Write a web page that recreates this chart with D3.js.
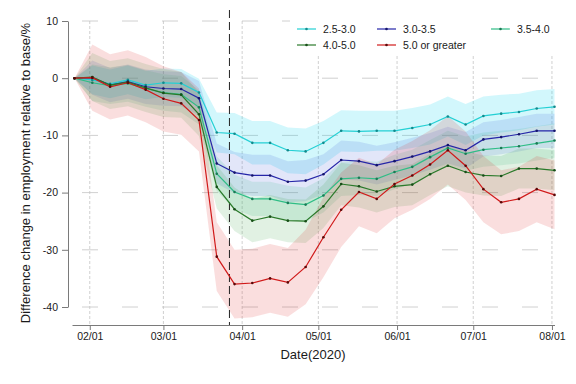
<!doctype html>
<html lang="en">
<head>
  <meta charset="utf-8">
  <title>Employment change by group</title>
  <style>
   body { margin: 0; background: #fff; }
   text { font-family: Arial, "Liberation Sans", sans-serif; fill: #1a1a1a; }
   .axis path, .axis line { stroke: #7a7a7a; }
   .axis text { font-size: 10.5px; }
  </style>
</head>
<body>
<svg id="chart" width="576" height="384" xmlns="http://www.w3.org/2000/svg"></svg>
<script src="https://cdn.jsdelivr.net/npm/d3@7"></script>
<script>
 // weekly observation dates
 var dates = ["2020-01-26","2020-02-02","2020-02-09","2020-02-16","2020-02-23","2020-03-01","2020-03-08",
              "2020-03-15","2020-03-22","2020-03-29","2020-04-05","2020-04-12","2020-04-19","2020-04-26",
              "2020-05-03","2020-05-10","2020-05-17","2020-05-24","2020-05-31","2020-06-07","2020-06-14",
              "2020-06-21","2020-06-28","2020-07-05","2020-07-12","2020-07-19","2020-07-26","2020-08-02"];

 var groupNames = ["2.5-3.0", "3.0-3.5", "3.5-4.0", "4.0-5.0", "5.0 or greater"];

 var vals25 = [0,-0.3,-1.0,-0.3,-1.2,-0.8,-0.9,-2.5,-9.5,-9.7,-11.3,-11.3,-12.6,-12.8,-11.3,-9.2,-9.3,-9.2,-9.2,-8.7,-8.1,-6.7,-8.1,-6.6,-6.2,-5.9,-5.3,-5.0];
 var vals30 = [0,0.1,-1.2,-0.6,-1.5,-1.8,-1.9,-3.5,-14.9,-16.5,-17.0,-17.0,-18.1,-17.9,-16.8,-14.3,-14.5,-15.2,-14.5,-13.7,-12.8,-11.7,-12.6,-10.7,-10.3,-9.8,-9.2,-9.2];
 var vals35 = [0,-0.8,-1.3,-0.9,-1.8,-2.5,-2.8,-5.1,-16.7,-19.9,-21.1,-21.1,-21.8,-22.1,-20.5,-17.6,-17.4,-17.6,-16.4,-15.5,-13.8,-12.2,-13.2,-12.5,-12.2,-11.9,-11.4,-10.9];
 var vals40 = [0,0.2,-1.2,-0.7,-1.7,-2.6,-2.9,-6.3,-19.0,-22.9,-24.9,-24.2,-24.9,-25.0,-22.4,-18.5,-18.9,-19.8,-18.9,-18.6,-16.8,-15.3,-16.4,-17.0,-17.1,-15.8,-15.8,-16.1];
 var vals50 = [0,0.1,-1.5,-0.8,-2.0,-3.6,-4.4,-7.3,-31.2,-36.0,-35.8,-35.0,-35.7,-33.0,-27.8,-23.0,-19.9,-21.1,-18.5,-17.0,-15.1,-12.6,-15.3,-19.4,-21.7,-21.1,-19.4,-20.4];

 // half widths of the shaded bands
 var ci25 = [0,2.5,2.5,2.5,2.5,2.5,2.5,2.4,3.5,3.6,3.8,3.8,4.0,4.0,3.8,3.6,3.6,3.5,3.5,3.5,3.5,3.5,3.6,3.4,3.3,3.2,3.2,3.1];
 var ci30 = [0,3.0,3.0,3.0,3.0,3.0,3.0,3.0,3.5,3.6,3.6,3.6,3.6,3.6,3.5,3.4,3.4,3.4,3.3,3.3,3.2,3.2,3.2,3.0,3.0,3.0,3.0,3.0];
 var ci35 = [0,3.2,3.2,3.2,3.2,3.2,3.2,3.0,3.0,3.0,3.0,3.0,3.0,3.0,3.0,3.0,3.0,3.0,3.0,3.0,3.0,3.0,3.0,3.0,3.0,3.0,3.0,3.0];
 var ci40 = [0,4.2,4.2,4.2,4.2,4.2,4.0,3.8,3.8,3.8,3.8,3.8,3.8,3.8,3.8,3.7,3.7,3.7,3.6,3.6,3.6,3.6,3.6,3.5,3.5,3.5,3.5,3.5];
 var ci50 = [0,5.8,5.7,5.7,5.7,5.7,5.5,5.5,6.0,6.0,6.0,6.0,6.0,6.5,7.0,6.5,6.0,6.0,6.0,6.0,6.0,6.0,6.0,5.8,5.6,5.6,5.8,6.0];

 var yTicks = [10, 0, -10, -20, -30, -40];
 var xTicks = ["2020-02-01","2020-03-01","2020-04-01","2020-05-01","2020-06-01","2020-07-01","2020-08-01"];
 var eventDate = "2020-03-27";

 var lineColors = ["#24d0d4", "#2626a8", "#2fbd86", "#2a7a2a", "#d01a1a"];
 var dotColors = ["#138a8c", "#14146a", "#1a7a55", "#184d18", "#5a0808"];
 var bandColors = ["#1ed8f0", "#3a55d8", "#2fbd86", "#34a040", "#e02424"];
 var bandAlpha = [0.2, 0.15, 0.15, 0.15, 0.15];

 var parse = d3.timeParse("%Y-%m-%d");
 var allVals = [vals25, vals30, vals35, vals40, vals50];
 var allCi = [ci25, ci30, ci35, ci40, ci50];

 var series = groupNames.map(function(name, k) {
     return {
         name: name,
         color: lineColors[k],
         dot: dotColors[k],
         band: bandColors[k],
         alpha: bandAlpha[k],
         points: dates.map(function(d, i) {
             return { date: parse(d), v: allVals[k][i], ci: allCi[k][i] };
         })
     };
 });

 var svg = d3.select("#chart");

 var x = d3.scaleTime()
           .domain([parse("2020-01-25"), parse("2020-08-02")])
           .range([72, 554.5]);
 var y = d3.scaleLinear()
           .domain([-40, 10])
           .range([307, 21]);
 var axisY = 325;

 // grid lines
 var grid = svg.append("g").attr("class", "grid");
 grid.selectAll("line.hg")
     .data(yTicks).enter()
     .append("line")
     .attr("class", "hg")
     .attr("x1", 82).attr("x2", 554)
     .attr("y1", function(d) { return y(d); })
     .attr("y2", function(d) { return y(d); })
     .attr("stroke", "#c4c4c4")
     .attr("stroke-width", 0.8)
     .attr("stroke-dasharray", "16,24");
 grid.selectAll("line.vg")
     .data(xTicks).enter()
     .append("line")
     .attr("class", "vg")
     .attr("x1", function(d) { return x(parse(d)); })
     .attr("x2", function(d) { return x(parse(d)); })
     .attr("y1", 21).attr("y2", axisY)
     .attr("stroke", "#c4c4c4")
     .attr("stroke-width", 0.8)
     .attr("stroke-dasharray", "3,2");

 // bands
 var area = d3.area()
              .x(function(d) { return x(d.date); })
              .y0(function(d) { return y(d.v - d.ci); })
              .y1(function(d) { return y(d.v + d.ci); });
 svg.append("g").selectAll("path")
    .data(series).enter()
    .append("path")
    .attr("d", function(s) { return area(s.points); })
    .attr("fill", function(s) { return s.band; })
    .attr("fill-opacity", function(s) { return s.alpha; })
    .attr("stroke", "none");

 // event marker
 svg.append("line")
    .attr("x1", x(parse(eventDate))).attr("x2", x(parse(eventDate)))
    .attr("y1", 10).attr("y2", axisY)
    .attr("stroke", "#222")
    .attr("stroke-width", 1)
    .attr("stroke-dasharray", "8,4");

 // lines + markers
 var line = d3.line()
              .x(function(d) { return x(d.date); })
              .y(function(d) { return y(d.v); });
 var groups = svg.append("g").selectAll("g")
                 .data(series).enter()
                 .append("g");
 groups.append("path")
       .attr("d", function(s) { return line(s.points); })
       .attr("fill", "none")
       .attr("stroke", function(s) { return s.color; })
       .attr("stroke-width", 1.2);
 groups.selectAll("circle")
       .data(function(s) { return s.points.map(function(p) { return { p: p, c: s.dot }; }); })
       .enter()
       .append("circle")
       .attr("cx", function(d) { return x(d.p.date); })
       .attr("cy", function(d) { return y(d.p.v); })
       .attr("r", 1.3)
       .attr("fill", function(d) { return d.c; });

 // axes
 svg.append("g")
    .attr("class", "axis")
    .attr("transform", "translate(68,0)")
    .call(d3.axisLeft(y).tickValues(yTicks).tickSize(6).tickSizeOuter(0).tickPadding(4)
            .tickFormat(function(d) { return d; }));
 svg.append("g")
    .attr("class", "axis")
    .attr("transform", "translate(0," + axisY + ")")
    .call(d3.axisBottom(x).tickValues(xTicks.map(parse)).tickSize(5).tickSizeOuter(0).tickPadding(3)
            .tickFormat(d3.timeFormat("%m/%d")));
 svg.selectAll(".axis .domain").attr("stroke", "#7a7a7a");

 // axis titles
 svg.append("text")
    .attr("x", 313).attr("y", 359)
    .attr("text-anchor", "middle")
    .attr("font-size", "13px")
    .text("Date(2020)");
 svg.append("text")
    .attr("transform", "translate(30,173) rotate(-90)")
    .attr("text-anchor", "middle")
    .attr("font-size", "13px")
    .text("Difference change in employment relative to base/%");

 // legend
 var legend = svg.append("g");
 legend.append("rect")
       .attr("x", 290).attr("y", 15).attr("width", 272).attr("height", 39)
       .attr("fill", "#fff");
 var legendPos = [[297, 29], [377, 29], [491, 29], [297, 45], [377, 45]];
 var items = legend.selectAll("g.item")
                   .data(series).enter()
                   .append("g")
                   .attr("class", "item")
                   .attr("transform", function(s, i) { return "translate(" + legendPos[i][0] + "," + legendPos[i][1] + ")"; });
 items.append("line")
      .attr("x1", 0).attr("x2", 19).attr("y1", 0).attr("y2", 0)
      .attr("stroke", function(s) { return s.color; })
      .attr("stroke-width", 1.2);
 items.append("circle")
      .attr("cx", 9.5).attr("cy", 0).attr("r", 1.3)
      .attr("fill", function(s) { return s.dot; });
 items.append("text")
      .attr("x", 26).attr("y", 4)
      .attr("font-size", "10.5px")
      .text(function(s) { return s.name; });
</script>
</body>
</html>
